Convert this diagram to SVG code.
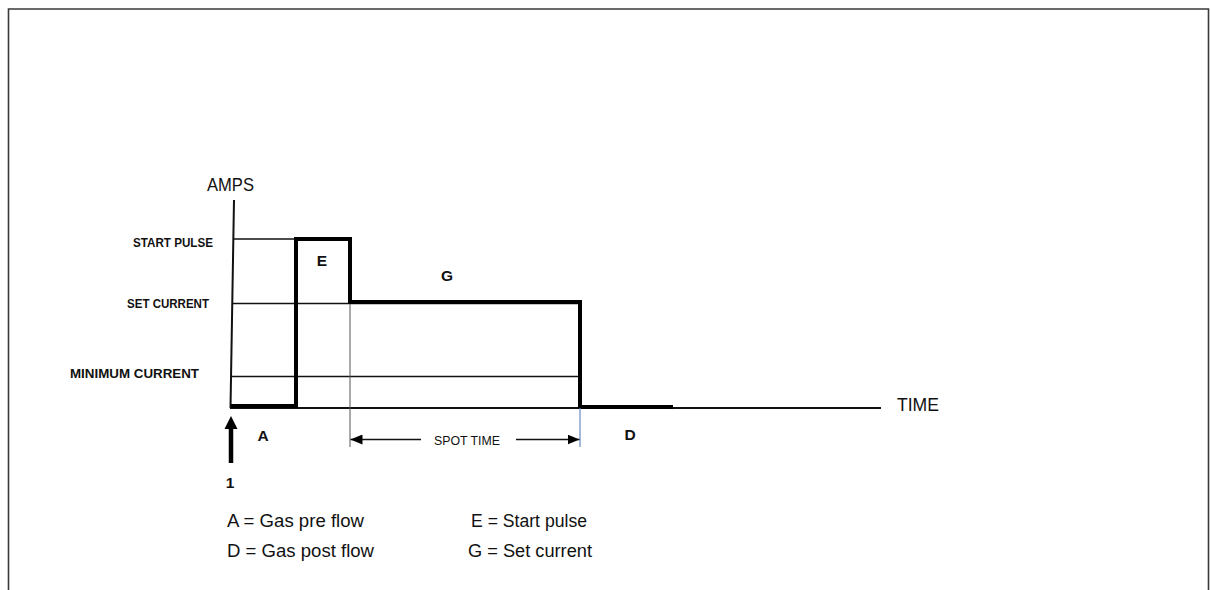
<svg xmlns="http://www.w3.org/2000/svg" width="1211" height="590" viewBox="0 0 1211 590">
<defs>
<style>
.lbl{font-family:"Liberation Sans",Arial,sans-serif;fill:#111}
.b{font-weight:bold}
.thin{stroke:#111;stroke-width:1.5;fill:none}
.thick{stroke:#000;stroke-width:4;fill:none;stroke-linejoin:miter}
</style>
<marker id="ah" viewBox="0 0 12 10" refX="12" refY="5" markerWidth="12" markerHeight="10" markerUnits="userSpaceOnUse" orient="auto">
<path d="M0,0 L12,5 L0,10 z" fill="#000"/>
</marker>
</defs>
<rect width="1211" height="590" fill="#fff"/>
<path d="M8.5,590 V9 H1208.5 V590" fill="none" stroke="#3a3a3a" stroke-width="1.6"/>

<g id="axes">
<line x1="234" y1="200" x2="230.5" y2="408" stroke="#111" stroke-width="2"/>
<line x1="230" y1="408" x2="881" y2="408" stroke="#111" stroke-width="2"/>
<text id="amps" class="lbl" x="207" y="191" font-size="18" textLength="47" lengthAdjust="spacingAndGlyphs">AMPS</text>
<text id="time" class="lbl" x="897" y="411" font-size="17.5" textLength="42" lengthAdjust="spacingAndGlyphs">TIME</text>
</g>

<g id="levels">
<line class="thin" x1="234" y1="239" x2="296" y2="239"/>
<line class="thin" x1="232" y1="303.5" x2="580" y2="303.5"/>
<line class="thin" x1="231" y1="376.5" x2="580" y2="376.5"/>
<text class="lbl b" x="133" y="246.5" font-size="12" textLength="80" lengthAdjust="spacingAndGlyphs">START  PULSE</text>
<text class="lbl b" x="127" y="307.5" font-size="12" textLength="82" lengthAdjust="spacingAndGlyphs">SET CURRENT</text>
<text class="lbl b" x="70" y="377.5" font-size="12" textLength="129" lengthAdjust="spacingAndGlyphs">MINIMUM  CURRENT</text>
</g>

<g id="waveform">
<path class="thick" d="M231,406 H296 V239 H350 V302 H580 V407 H673"/>
</g>

<g id="connectors">
<line x1="350" y1="304" x2="350" y2="447" stroke="#555" stroke-width="1"/>
<line x1="580" y1="408" x2="580" y2="447" stroke="#6a8ac4" stroke-width="1.2"/>
<line x1="421" y1="439.5" x2="350.5" y2="439.5" stroke="#111" stroke-width="1.3" marker-end="url(#ah)"/>
<line x1="516" y1="439.5" x2="579.5" y2="439.5" stroke="#111" stroke-width="1.3" marker-end="url(#ah)"/>
<line x1="231" y1="463" x2="231" y2="427" stroke="#000" stroke-width="4.5"/>
<path d="M224.5,429 L231,416 L237.5,429 z" fill="#000"/>
</g>

<g id="labels">
<text class="lbl" x="434" y="444.5" font-size="13.5" textLength="66" lengthAdjust="spacingAndGlyphs">SPOT TIME</text>
<text class="lbl b" x="322" y="265.5" font-size="15.5" text-anchor="middle">E</text>
<text class="lbl b" x="447" y="280.5" font-size="15.5" text-anchor="middle">G</text>
<text class="lbl b" x="263" y="440.5" font-size="15.5" text-anchor="middle">A</text>
<text class="lbl b" x="630" y="439.5" font-size="15.5" text-anchor="middle">D</text>
<text class="lbl b" x="230" y="487.5" font-size="15.5" text-anchor="middle">1</text>
</g>

<g id="legend">
<text class="lbl" x="227" y="527" font-size="17.5" textLength="137" lengthAdjust="spacingAndGlyphs">A = Gas pre flow</text>
<text class="lbl" x="227" y="557" font-size="17.5" textLength="147" lengthAdjust="spacingAndGlyphs">D = Gas post flow</text>
<text class="lbl" x="471" y="527" font-size="17.5" textLength="116" lengthAdjust="spacingAndGlyphs">E = Start pulse</text>
<text class="lbl" x="468" y="557" font-size="17.5" textLength="124" lengthAdjust="spacingAndGlyphs">G = Set current</text>
</g>
</svg>
